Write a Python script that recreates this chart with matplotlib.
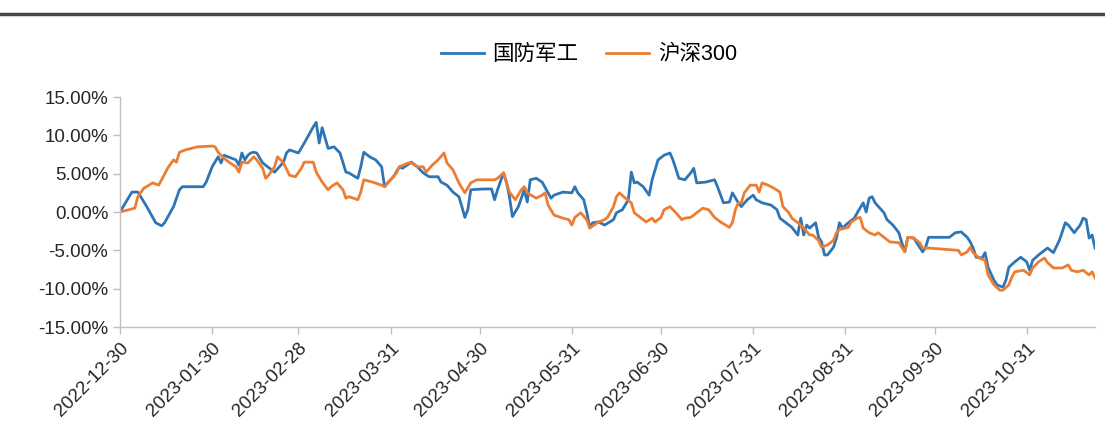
import numpy as np
import pandas as pd
import matplotlib
matplotlib.use("Agg")
import matplotlib.pyplot as plt
from matplotlib.lines import Line2D

plt.rcParams["font.family"] = ["Liberation Sans", "Noto Sans CJK SC", "DejaVu Sans"]

# 国防军工 cumulative return (%)
jg_dates = [
    "2022-12-30", "2023-01-03", "2023-01-05", "2023-01-08", "2023-01-11", "2023-01-13",
    "2023-01-14", "2023-01-17", "2023-01-19", "2023-01-20", "2023-01-27", "2023-01-28",
    "2023-01-30", "2023-02-01", "2023-02-02", "2023-02-03", "2023-02-07", "2023-02-08",
    "2023-02-09", "2023-02-10", "2023-02-11", "2023-02-12", "2023-02-13", "2023-02-14",
    "2023-02-16", "2023-02-20", "2023-02-23", "2023-02-24", "2023-02-25", "2023-02-28",
    "2023-03-02", "2023-03-05", "2023-03-06", "2023-03-07", "2023-03-08", "2023-03-10",
    "2023-03-12", "2023-03-14", "2023-03-16", "2023-03-17", "2023-03-20", "2023-03-21",
    "2023-03-22", "2023-03-24", "2023-03-26", "2023-03-28", "2023-03-29", "2023-03-30",
    "2023-04-01", "2023-04-03", "2023-04-04", "2023-04-07", "2023-04-09", "2023-04-11",
    "2023-04-13", "2023-04-16", "2023-04-17", "2023-04-19", "2023-04-21", "2023-04-23",
    "2023-04-24", "2023-04-25", "2023-04-26", "2023-04-27", "2023-05-01", "2023-05-04",
    "2023-05-05", "2023-05-06", "2023-05-08", "2023-05-09", "2023-05-10", "2023-05-11",
    "2023-05-13", "2023-05-15", "2023-05-16", "2023-05-17", "2023-05-19", "2023-05-21",
    "2023-05-23", "2023-05-24", "2023-05-25", "2023-05-28", "2023-05-31", "2023-06-01",
    "2023-06-02", "2023-06-04", "2023-06-05", "2023-06-06", "2023-06-07", "2023-06-09",
    "2023-06-11", "2023-06-14", "2023-06-15", "2023-06-17", "2023-06-19", "2023-06-20",
    "2023-06-21", "2023-06-22", "2023-06-24", "2023-06-26", "2023-06-27", "2023-06-29",
    "2023-07-01", "2023-07-03", "2023-07-04", "2023-07-06", "2023-07-08", "2023-07-10",
    "2023-07-11", "2023-07-12", "2023-07-15", "2023-07-18", "2023-07-19", "2023-07-21",
    "2023-07-23", "2023-07-24", "2023-07-26", "2023-07-27", "2023-07-29", "2023-07-31",
    "2023-08-01", "2023-08-03", "2023-08-06", "2023-08-08", "2023-08-09", "2023-08-11",
    "2023-08-13", "2023-08-15", "2023-08-16", "2023-08-17", "2023-08-18", "2023-08-19",
    "2023-08-21", "2023-08-22", "2023-08-23", "2023-08-24", "2023-08-25", "2023-08-27",
    "2023-08-28", "2023-08-29", "2023-08-30", "2023-09-01", "2023-09-03", "2023-09-04",
    "2023-09-06", "2023-09-07", "2023-09-08", "2023-09-09", "2023-09-10", "2023-09-13",
    "2023-09-14", "2023-09-16", "2023-09-18", "2023-09-19", "2023-09-20", "2023-09-21",
    "2023-09-23", "2023-09-25", "2023-09-26", "2023-09-27", "2023-09-28", "2023-10-05",
    "2023-10-07", "2023-10-09", "2023-10-11", "2023-10-12", "2023-10-13", "2023-10-14",
    "2023-10-16", "2023-10-17", "2023-10-18", "2023-10-20", "2023-10-21", "2023-10-23",
    "2023-10-24", "2023-10-25", "2023-10-27", "2023-10-29", "2023-10-31", "2023-11-01",
    "2023-11-02", "2023-11-04", "2023-11-06", "2023-11-07", "2023-11-09", "2023-11-11",
    "2023-11-13", "2023-11-14", "2023-11-16", "2023-11-18", "2023-11-19", "2023-11-20",
    "2023-11-21", "2023-11-22", "2023-11-23",
]
jg_values = [
    0.0, 2.6, 2.6, 0.7, -1.4, -1.8,
    -1.4, 0.7, 2.9, 3.3, 3.3, 3.9,
    5.9, 7.2, 6.4, 7.4, 6.8, 6.1,
    7.7, 6.8, 7.4, 7.7, 7.8, 7.7,
    6.4, 5.2, 6.5, 7.7, 8.1, 7.7,
    9.0, 11.1, 11.7, 9.0, 11.0, 8.3,
    8.5, 7.7, 5.2, 5.1, 4.4, 5.9,
    7.8, 7.2, 6.8, 5.9, 3.3, 3.8,
    4.6, 5.9, 5.7, 6.5, 5.9, 5.1,
    4.6, 4.6, 3.9, 3.5, 2.6, 2.0,
    0.7, -0.7, 0.3, 2.9, 3.0, 3.0,
    1.6, 2.9, 5.1, 3.9, 2.0, -0.6,
    0.7, 2.9, 1.3, 4.2, 4.4, 3.9,
    2.5, 1.8, 2.2, 2.6, 2.5, 3.3,
    2.5, 1.6, 0.0, -2.0, -1.4, -1.3,
    -1.7, -1.0, -0.1, 0.3, 1.6, 5.2,
    3.8, 3.9, 3.3, 2.2, 4.2, 6.8,
    7.4, 7.7, 6.8, 4.4, 4.2, 5.1,
    5.7, 3.8, 3.9, 4.2, 3.3, 1.2,
    1.3, 2.5, 1.2, 0.7, 1.6, 2.2,
    1.6, 1.2, 0.9, 0.3, -0.8, -1.4,
    -2.0, -3.0, -0.8, -3.0, -1.7, -2.1,
    -1.4, -3.3, -3.9, -5.6, -5.6, -4.6,
    -3.4, -1.4, -2.1, -1.4, -0.8, -0.1,
    1.2, 0.0, 1.8, 2.0, 1.2, -0.1,
    -1.0, -1.7, -2.7, -4.0, -5.2, -3.3,
    -3.4, -4.6, -5.2, -4.6, -3.3, -3.3,
    -2.7, -2.6, -3.3, -3.9, -4.7, -5.9,
    -6.0, -5.3, -7.2, -8.9, -9.5, -9.8,
    -8.9, -7.2, -6.5, -5.9, -6.5, -7.6,
    -6.3, -5.6, -5.0, -4.7, -5.3, -3.7,
    -1.4, -1.7, -2.7, -1.7, -0.8, -1.0,
    -3.4, -3.0, -4.7,
]

# 沪深300 cumulative return (%)
hs_dates = [
    "2022-12-30", "2023-01-02", "2023-01-04", "2023-01-05", "2023-01-07", "2023-01-10",
    "2023-01-12", "2023-01-13", "2023-01-15", "2023-01-17", "2023-01-18", "2023-01-19",
    "2023-01-21", "2023-01-25", "2023-01-30", "2023-01-31", "2023-02-01", "2023-02-03",
    "2023-02-05", "2023-02-07", "2023-02-08", "2023-02-09", "2023-02-11", "2023-02-13",
    "2023-02-14", "2023-02-16", "2023-02-17", "2023-02-18", "2023-02-20", "2023-02-21",
    "2023-02-23", "2023-02-25", "2023-02-27", "2023-03-01", "2023-03-02", "2023-03-05",
    "2023-03-06", "2023-03-08", "2023-03-10", "2023-03-11", "2023-03-13", "2023-03-15",
    "2023-03-16", "2023-03-17", "2023-03-20", "2023-03-21", "2023-03-22", "2023-03-25",
    "2023-03-28", "2023-03-29", "2023-03-31", "2023-04-02", "2023-04-03", "2023-04-06",
    "2023-04-07", "2023-04-09", "2023-04-11", "2023-04-12", "2023-04-14", "2023-04-16",
    "2023-04-18", "2023-04-19", "2023-04-21", "2023-04-23", "2023-04-25", "2023-04-27",
    "2023-04-29", "2023-05-05", "2023-05-06", "2023-05-08", "2023-05-09", "2023-05-10",
    "2023-05-12", "2023-05-14", "2023-05-15", "2023-05-16", "2023-05-19", "2023-05-21",
    "2023-05-22", "2023-05-23", "2023-05-25", "2023-05-28", "2023-05-30", "2023-05-31",
    "2023-06-01", "2023-06-03", "2023-06-05", "2023-06-06", "2023-06-09", "2023-06-11",
    "2023-06-12", "2023-06-14", "2023-06-15", "2023-06-16", "2023-06-18", "2023-06-20",
    "2023-06-21", "2023-06-24", "2023-06-25", "2023-06-27", "2023-06-28", "2023-06-30",
    "2023-07-01", "2023-07-03", "2023-07-05", "2023-07-07", "2023-07-08", "2023-07-10",
    "2023-07-12", "2023-07-14", "2023-07-16", "2023-07-18", "2023-07-20", "2023-07-23",
    "2023-07-24", "2023-07-25", "2023-07-26", "2023-07-27", "2023-07-28", "2023-07-30",
    "2023-08-01", "2023-08-02", "2023-08-03", "2023-08-05", "2023-08-07", "2023-08-09",
    "2023-08-10", "2023-08-12", "2023-08-13", "2023-08-15", "2023-08-17", "2023-08-19",
    "2023-08-20", "2023-08-22", "2023-08-23", "2023-08-25", "2023-08-27", "2023-08-28",
    "2023-08-29", "2023-09-01", "2023-09-02", "2023-09-04", "2023-09-05", "2023-09-06",
    "2023-09-08", "2023-09-10", "2023-09-11", "2023-09-13", "2023-09-15", "2023-09-18",
    "2023-09-20", "2023-09-21", "2023-09-23", "2023-09-25", "2023-09-26", "2023-09-28",
    "2023-10-08", "2023-10-09", "2023-10-11", "2023-10-12", "2023-10-13", "2023-10-15",
    "2023-10-17", "2023-10-18", "2023-10-20", "2023-10-22", "2023-10-23", "2023-10-25",
    "2023-10-26", "2023-10-27", "2023-10-30", "2023-11-01", "2023-11-02", "2023-11-04",
    "2023-11-06", "2023-11-07", "2023-11-09", "2023-11-12", "2023-11-14", "2023-11-15",
    "2023-11-17", "2023-11-19", "2023-11-21", "2023-11-22", "2023-11-23",
]
hs_values = [
    0.0, 0.3, 0.5, 2.0, 3.1, 3.8,
    3.5, 4.2, 5.7, 6.8, 6.5, 7.8,
    8.1, 8.5, 8.6, 8.5, 7.8, 7.0,
    6.4, 5.9, 5.2, 6.5, 6.4, 7.2,
    6.8, 5.7, 4.4, 4.8, 5.9, 7.2,
    6.4, 4.8, 4.6, 5.7, 6.5, 6.5,
    5.2, 3.9, 2.9, 3.3, 3.8, 2.9,
    1.8, 2.0, 1.6, 2.6, 4.2, 3.9,
    3.5, 3.3, 4.2, 5.1, 5.9, 6.4,
    6.4, 5.9, 5.9, 5.2, 6.1, 6.8,
    7.7, 6.4, 5.5, 3.8, 2.5, 3.8,
    4.2, 4.2, 4.4, 5.1, 3.8, 2.6,
    1.6, 2.9, 3.3, 2.5, 1.8, 2.2,
    2.5, 0.9, -0.4, -0.8, -1.0, -1.7,
    -0.7, -0.1, -1.0, -2.1, -1.3, -1.0,
    -0.7, 0.7, 2.0, 2.5, 1.8, 1.2,
    -0.1, -1.0, -1.3, -0.8, -1.3, -0.7,
    0.3, 0.7, -0.1, -1.0, -0.8, -0.7,
    -0.1, 0.5, 0.3, -0.7, -1.3, -2.0,
    -1.4, 0.3, 1.2, 1.2, 2.5, 3.5,
    3.5, 2.6, 3.8, 3.5, 3.1, 2.6,
    0.7, -0.1, -0.8, -1.4, -2.1, -3.0,
    -3.0, -3.7, -4.6, -4.3, -3.7, -2.7,
    -2.3, -2.0, -1.3, -0.8, -0.7, -2.1,
    -2.7, -3.0, -2.7, -3.3, -3.9, -4.0,
    -5.2, -3.3, -3.4, -4.0, -4.7, -4.7,
    -5.0, -5.6, -5.2, -4.6, -5.3, -6.0,
    -6.3, -8.2, -9.5, -10.2, -10.2, -9.5,
    -8.5, -7.8, -7.6, -8.2, -7.3, -6.5,
    -6.0, -6.6, -7.3, -7.3, -6.9, -7.6,
    -7.8, -7.6, -8.2, -7.8, -8.6,
]

tick_labels = [
    "2022-12-30", "2023-01-30", "2023-02-28", "2023-03-31", "2023-04-30", "2023-05-31",
    "2023-06-30", "2023-07-31", "2023-08-31", "2023-09-30", "2023-10-31",
]

jg = pd.Series(jg_values, index=pd.to_datetime(jg_dates))
hs = pd.Series(hs_values, index=pd.to_datetime(hs_dates))

fig = plt.figure(figsize=(11.05, 4.3), dpi=100)
ax = fig.add_axes([0.1086, 0.2395, 0.8824, 0.5349])

ax.plot(jg.index, jg.values, color="#2E75B6", lw=2.0, label="国防军工")
ax.plot(hs.index, hs.values, color="#ED7D31", lw=2.0, label="沪深300")

ax.set_ylim(-15, 15)
ax.set_yticks(np.arange(-15, 16, 5))
ax.set_yticklabels([f"{v:.2f}%" for v in np.arange(-15, 16, 5)])
ax.set_xlim(pd.Timestamp("2022-12-30"), pd.Timestamp("2023-11-23"))
ax.set_xticks(pd.to_datetime(tick_labels))
ax.set_xticklabels(tick_labels, rotation=45, ha="right", rotation_mode="anchor")

for s in ["top", "right"]:
    ax.spines[s].set_visible(False)
for s in ["left", "bottom"]:
    ax.spines[s].set_color("#BFBFBF")
    ax.spines[s].set_linewidth(1.0)
ax.tick_params(axis="both", colors="#BFBFBF", length=5, width=1.0,
               labelcolor="#262626", labelsize=13.5)
ax.tick_params(axis="x", pad=4)

ax.legend(loc="center", bbox_to_anchor=(0.481, 1.183), ncol=2, frameon=False,
          fontsize=15.5, handlelength=2.0, columnspacing=1.3, handletextpad=0.4)

# dark rule across the top
fig.add_artist(Line2D([0, 1], [1 - 14 / 430, 1 - 14 / 430], color="#474747",
                      lw=2.5, transform=fig.transFigure))

fig.savefig("out.png", dpi=100)
